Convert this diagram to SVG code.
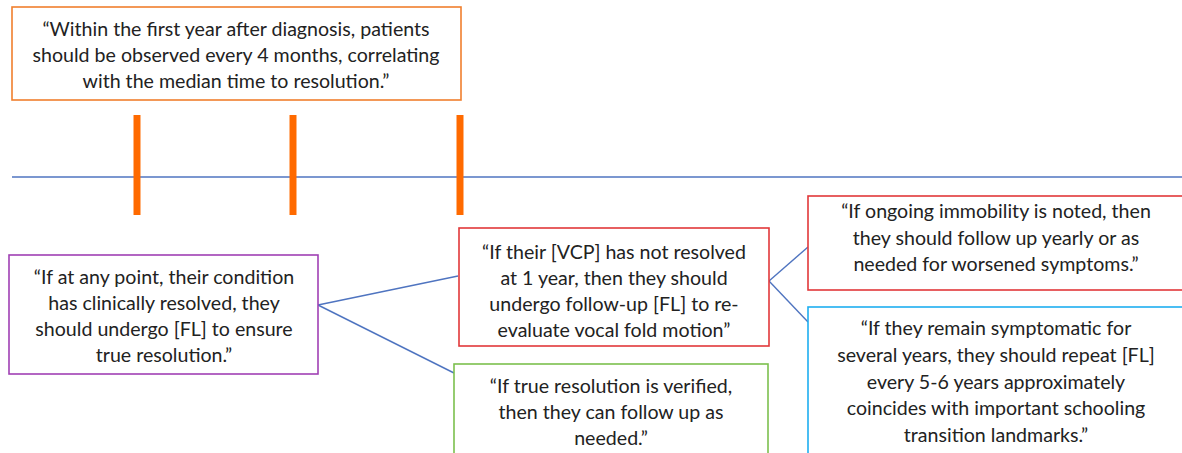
<svg xmlns="http://www.w3.org/2000/svg" width="1182" height="453" viewBox="0 0 1182 453">
<style>
text{font-family:Lato,"Open Sans","Liberation Sans",sans-serif;font-size:19.6px;fill:#222;text-anchor:middle}
.box{fill:#fff;stroke-width:1.6}
.conn{stroke:#4F74C0;stroke-width:1.4;fill:none}
.tick{stroke:#FF6A00;stroke-width:7}
</style>
<rect width="1182" height="453" fill="#fff"/>
<g id="timeline">
<line class="conn" x1="12" y1="177" x2="1182" y2="177"/>
<line class="tick" x1="137" y1="115" x2="137" y2="215"/>
<line class="tick" x1="293" y1="115" x2="293" y2="215"/>
<line class="tick" x1="460" y1="115" x2="460" y2="215"/>
</g>
<g id="connectors">
<line class="conn" x1="318" y1="305" x2="458" y2="276"/>
<line class="conn" x1="318" y1="305" x2="454" y2="373"/>
<line class="conn" x1="769" y1="281" x2="808" y2="247"/>
<line class="conn" x1="769" y1="281" x2="808" y2="322"/>
</g>
<g id="node-first-year">
<rect class="box" x="12" y="7" width="449" height="93" stroke="#F07F2D"/>
<text x="236" y="36">“Within the first year after diagnosis, patients</text>
<text x="236" y="62">should be observed every 4 months, correlating</text>
<text x="236" y="88">with the median time to resolution.”</text>
</g>
<g id="node-resolved">
<rect class="box" x="9" y="255" width="309" height="119" stroke="#A040B4"/>
<text x="164" y="284">“If at any point, their condition</text>
<text x="164" y="310">has clinically resolved, they</text>
<text x="164" y="336">should undergo [FL] to ensure</text>
<text x="164" y="362">true resolution.”</text>
</g>
<g id="node-not-resolved">
<rect class="box" x="459" y="228" width="310" height="118" stroke="#E2383A"/>
<text x="614" y="259">“If their [VCP] has not resolved</text>
<text x="614" y="285">at 1 year, then they should</text>
<text x="614" y="311">undergo follow-up [FL] to re-</text>
<text x="614" y="337">evaluate vocal fold motion”</text>
</g>
<g id="node-verified">
<rect class="box" x="454" y="364" width="314" height="100" stroke="#7CC04E"/>
<text x="611" y="393">“If true resolution is verified,</text>
<text x="611" y="419">then they can follow up as</text>
<text x="611" y="445">needed.”</text>
</g>
<g id="node-immobility">
<rect class="box" x="808" y="196" width="380" height="94" stroke="#E2383A"/>
<text x="996" y="218">“If ongoing immobility is noted, then</text>
<text x="996" y="245">they should follow up yearly or as</text>
<text x="996" y="271">needed for worsened symptoms.”</text>
</g>
<g id="node-symptomatic">
<rect class="box" x="808" y="307" width="380" height="160" stroke="#1EAEF0"/>
<text x="996" y="335">“If they remain symptomatic for</text>
<text x="996" y="362">several years, they should repeat [FL]</text>
<text x="996" y="389">every 5-6 years approximately</text>
<text x="996" y="415">coincides with important schooling</text>
<text x="996" y="442">transition landmarks.”</text>
</g>
</svg>
